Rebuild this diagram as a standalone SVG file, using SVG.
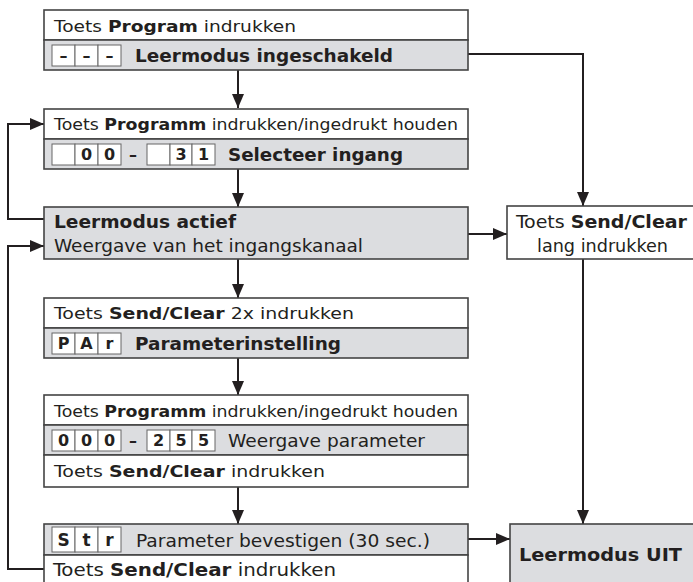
<svg xmlns="http://www.w3.org/2000/svg" width="693" height="582" viewBox="0 0 693 582">
<defs>
<marker id="ah" markerWidth="14" markerHeight="12" refX="14" refY="6" orient="auto" markerUnits="userSpaceOnUse">
<path d="M0,0 L14,6 L0,12 Z" fill="#231f20"/>
</marker>
<style>
.w{fill:#ffffff;stroke:#444;stroke-width:1.6}
.g{fill:#dcdde0;stroke:#444;stroke-width:1.6}
.d{fill:#ffffff;stroke:#666;stroke-width:1}
.v{font-family:"DejaVu Sans",Verdana,sans-serif;font-size:16px;fill:#231f20}
.vb{font-family:"DejaVu Sans",Verdana,sans-serif;font-size:17.5px;font-weight:bold;fill:#231f20}
.vr{font-family:"DejaVu Sans",Verdana,sans-serif;font-size:17px;fill:#231f20}
.t{font-family:"DejaVu Sans Condensed","DejaVu Sans",sans-serif;font-size:18.5px;fill:#231f20}
.b{font-weight:bold}
.dg{font-family:"DejaVu Sans",sans-serif;font-size:16px;font-weight:bold;fill:#231f20;text-anchor:middle}
.c{fill:none;stroke:#231f20;stroke-width:2}
</style>
</defs>
<rect width="693" height="582" fill="#fff"/>
<g id="connectors">
<path class="c" d="M238,70 V108" marker-end="url(#ah)"/>
<path class="c" d="M238,169 V207" marker-end="url(#ah)"/>
<path class="c" d="M238,259 V298" marker-end="url(#ah)"/>
<path class="c" d="M238,358 V395" marker-end="url(#ah)"/>
<path class="c" d="M238,487 V524" marker-end="url(#ah)"/>
<path class="c" d="M468,54 H583 V206" marker-end="url(#ah)"/>
<path class="c" d="M468,234 H507" marker-end="url(#ah)"/>
<path class="c" d="M583,259 V524" marker-end="url(#ah)"/>
<path class="c" d="M468,539 H510" marker-end="url(#ah)"/>
<path class="c" d="M44,219 H8 V124 H44" marker-end="url(#ah)"/>
<path class="c" d="M44,569 H8 V246 H44" marker-end="url(#ah)"/>
</g>
<g id="n1">
<rect class="w" x="44" y="10" width="424" height="30"/>
<rect class="g" x="44" y="40" width="424" height="30"/>
<text class="v" x="54" y="32" textLength="242" lengthAdjust="spacingAndGlyphs">Toets <tspan class="b">Program</tspan> indrukken</text>
<rect class="d" x="52" y="45" width="23" height="21"/><rect class="d" x="75" y="45" width="23" height="21"/><rect class="d" x="98" y="45" width="23" height="21"/>
<text class="dg" x="63.5" y="61">–</text><text class="dg" x="86.5" y="61">–</text><text class="dg" x="109.5" y="61">–</text>
<text class="vb" x="135" y="62" textLength="258" lengthAdjust="spacingAndGlyphs">Leermodus ingeschakeld</text>
</g>
<g id="n2">
<rect class="w" x="44" y="109" width="424" height="30"/>
<rect class="g" x="44" y="139" width="424" height="30"/>
<text class="v" x="54" y="130" textLength="404" lengthAdjust="spacingAndGlyphs">Toets <tspan class="b">Programm</tspan> indrukken/ingedrukt houden</text>
<rect class="d" x="52" y="144" width="23" height="21"/><rect class="d" x="75" y="144" width="23" height="21"/><rect class="d" x="98" y="144" width="23" height="21"/>
<text class="dg" x="86.5" y="160">0</text><text class="dg" x="109.5" y="160">0</text>
<text class="dg" x="133" y="160">–</text>
<rect class="d" x="147" y="144" width="23" height="21"/><rect class="d" x="170" y="144" width="22" height="21"/><rect class="d" x="192" y="144" width="23" height="21"/>
<text class="dg" x="181" y="160">3</text><text class="dg" x="203.5" y="160">1</text>
<text class="vb" x="228" y="161" textLength="175" lengthAdjust="spacingAndGlyphs">Selecteer ingang</text>
</g>
<g id="n3">
<rect class="g" x="44" y="207" width="424" height="52"/>
<text class="t b" x="54" y="228" textLength="182" lengthAdjust="spacingAndGlyphs">Leermodus actief</text>
<text class="t" x="54" y="252" textLength="309" lengthAdjust="spacingAndGlyphs">Weergave van het ingangskanaal</text>
</g>
<g id="n4">
<rect class="w" x="507" y="206" width="190" height="53"/>
<text class="t" x="516" y="228" textLength="171" lengthAdjust="spacingAndGlyphs">Toets <tspan class="b">Send/Clear</tspan></text>
<text class="t" x="537" y="252" textLength="131" lengthAdjust="spacingAndGlyphs">lang indrukken</text>
</g>
<g id="n5">
<rect class="w" x="44" y="298" width="424" height="30"/>
<rect class="g" x="44" y="328" width="424" height="30"/>
<text class="v" x="54" y="319" textLength="300" lengthAdjust="spacingAndGlyphs">Toets <tspan class="b">Send/Clear</tspan> 2x indrukken</text>
<rect class="d" x="52" y="333" width="23" height="21"/><rect class="d" x="75" y="333" width="23" height="21"/><rect class="d" x="98" y="333" width="23" height="21"/>
<text class="dg" x="63.5" y="349">P</text><text class="dg" x="86.5" y="349">A</text><text class="dg" x="109.5" y="349">r</text>
<text class="vb" x="135" y="350" textLength="206" lengthAdjust="spacingAndGlyphs">Parameterinstelling</text>
</g>
<g id="n6">
<rect class="w" x="44" y="395" width="424" height="30"/>
<rect class="g" x="44" y="425" width="424" height="30"/>
<rect class="w" x="44" y="455" width="424" height="32"/>
<text class="v" x="54" y="417" textLength="404" lengthAdjust="spacingAndGlyphs">Toets <tspan class="b">Programm</tspan> indrukken/ingedrukt houden</text>
<rect class="d" x="52" y="430" width="23" height="21"/><rect class="d" x="75" y="430" width="23" height="21"/><rect class="d" x="98" y="430" width="23" height="21"/>
<text class="dg" x="63.5" y="446">0</text><text class="dg" x="86.5" y="446">0</text><text class="dg" x="109.5" y="446">0</text>
<text class="dg" x="133" y="446">–</text>
<rect class="d" x="147" y="430" width="23" height="21"/><rect class="d" x="170" y="430" width="22" height="21"/><rect class="d" x="192" y="430" width="23" height="21"/>
<text class="dg" x="158.5" y="446">2</text><text class="dg" x="181" y="446">5</text><text class="dg" x="203.5" y="446">5</text>
<text class="vr" x="228" y="447" textLength="197" lengthAdjust="spacingAndGlyphs">Weergave parameter</text>
<text class="v" x="54" y="477" textLength="271" lengthAdjust="spacingAndGlyphs">Toets <tspan class="b">Send/Clear</tspan> indrukken</text>
</g>
<g id="n7">
<rect class="g" x="44" y="524" width="424" height="31"/>
<rect class="w" x="44" y="555" width="424" height="32"/>
<rect class="d" x="52" y="527" width="23" height="25"/><rect class="d" x="75" y="527" width="23" height="25"/><rect class="d" x="98" y="527" width="23" height="25"/>
<text class="dg" x="63.5" y="546" style="font-size:17px">S</text><text class="dg" x="86.5" y="546" style="font-size:17px">t</text><text class="dg" x="109.5" y="546" style="font-size:17px">r</text>
<text class="t" x="136" y="547" textLength="294" lengthAdjust="spacingAndGlyphs">Parameter bevestigen (30 sec.)</text>
<text class="t" x="53" y="576" textLength="283" lengthAdjust="spacingAndGlyphs">Toets <tspan class="b">Send/Clear</tspan> indrukken</text>
</g>
<g id="n8">
<rect class="g" x="510" y="524" width="186" height="64"/>
<text class="t b" x="519" y="561" textLength="163" lengthAdjust="spacingAndGlyphs">Leermodus UIT</text>
</g>
</svg>
